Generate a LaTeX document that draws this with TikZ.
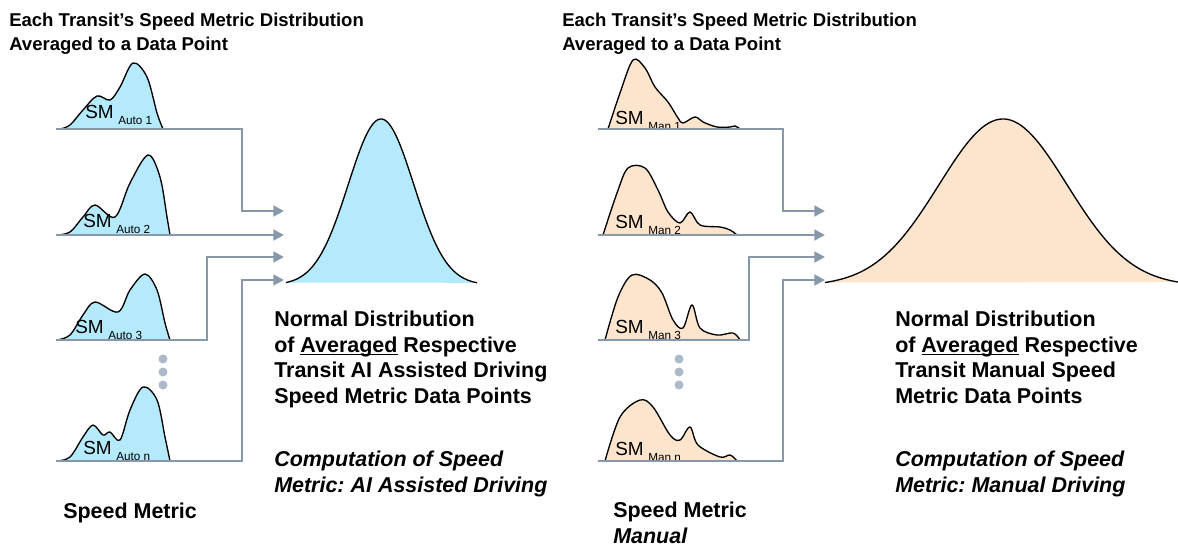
\documentclass[tikz,border=0pt]{standalone}
\usepackage{fontspec}
\setmainfont{Liberation Sans}
\usetikzlibrary{arrows.meta}
\frenchspacing

\definecolor{autoblue}{RGB}{180,234,251}
\definecolor{manpeach}{RGB}{252,228,205}
\definecolor{linkgray}{RGB}{134,152,170}
\definecolor{dotgray}{RGB}{170,186,200}

\tikzset{
	link/.style={draw=linkgray, line width=2.2pt, -{Triangle[length=8pt,width=8pt]}},
	bumpline/.style={draw=black, line width=1pt},
	smlabel/.style={anchor=base west, inner sep=0pt, font=\fontsize{14.2}{16}\selectfont},
	headtext/.style={anchor=base west, inner sep=0pt, align=left, font=\bfseries\fontsize{13.9}{18}\selectfont},
	bodytext/.style={anchor=base west, inner sep=0pt, align=left, font=\bfseries\fontsize{16.1}{19.1}\selectfont},
	slanttext/.style={anchor=base west, inner sep=0pt, align=left, font=\bfseries\itshape\fontsize{16.1}{19.1}\selectfont},
}

% a small speed metric curve: fill colour, points
\newcommand{\smcurve}[2]{%
	\fill[#1] plot[smooth, tension=0.55] coordinates {#2} -- cycle;
	\draw[bumpline] plot[smooth, tension=0.55] coordinates {#2};
}
\newcommand{\smtext}[1]{SM\hspace{3.5pt}\raisebox{-4.5pt}{\fontsize{8.8}{10}\selectfont #1}}

\begin{document}
\begin{tikzpicture}[x=0.75pt, y=-0.75pt]
	\useasboundingbox (0,0) rectangle (1178,547);
	% Draw the headers (anchored at the last line)
	\node[headtext] (headauto) at (9,50) {Each Transit’s Speed Metric Distribution\\Averaged to a Data Point};
	\node[headtext] (headman) at (562,50) {Each Transit’s Speed Metric Distribution\\Averaged to a Data Point};
	% Draw the AI assisted curves
	\smcurve{autoblue}{(60,129) (70,125) (83,110) (97,96) (110,100) (120,87) (133,63) (147,77) (157,113) (163,129)}
	\smcurve{autoblue}{(57,235) (70,232) (83,217) (95,205) (115,217) (130,183) (148,155) (160,177) (167,217) (170,235)}
	\smcurve{autoblue}{(57,340) (70,335) (83,315) (95,302) (118,312) (130,290) (145,274) (157,290) (165,323) (170,340)}
	\smcurve{autoblue}{(57,461) (70,457) (83,437) (93,425) (103,435) (110,432) (120,440) (130,410) (143,387) (157,400) (165,437) (170,461)}
	% Draw the manual curves
	\smcurve{manpeach}{(608,129) (620,93) (633,60) (645,68) (655,87) (668,102) (678,118) (683,123) (695,117) (703,122) (717,127) (730,127) (735,126) (740,129)}
	\smcurve{manpeach}{(603,235) (617,193) (628,168) (645,168) (658,190) (668,212) (680,223) (690,212) (700,225) (720,227) (730,230) (737,235)}
	\smcurve{manpeach}{(605,340) (618,297) (632,275) (650,280) (662,293) (673,320) (683,328) (692,305) (700,328) (717,335) (733,333) (740,340)}
	\smcurve{manpeach}{(605,461) (620,417) (640,400) (653,407) (670,435) (680,440) (690,427) (698,445) (720,457) (730,455) (737,461)}
	% Label the small curves
	\node[smlabel] (smauto1) at (85,118) {\smtext{Auto 1}};
	\node[smlabel] (smauto2) at (83,227) {\smtext{Auto 2}};
	\node[smlabel] (smauto3) at (75,333) {\smtext{Auto 3}};
	\node[smlabel] (smauton) at (83,454) {\smtext{Auto n}};
	\node[smlabel] (smman1) at (615,124) {\smtext{Man 1}};
	\node[smlabel] (smman2) at (615,228) {\smtext{Man 2}};
	\node[smlabel] (smman3) at (615,333) {\smtext{Man 3}};
	\node[smlabel] (smmann) at (615,455) {\smtext{Man n}};
	% Draw the dots
	\foreach \y in {359,372,385} {
		\fill[dotgray] (163,\y) circle (4.5);
		\fill[dotgray] (679,\y) circle (4.5);
	}
	% Draw the normal distributions
	\fill[autoblue] plot[domain=286:477, samples=120] (\x,{285-166*exp(-((\x-381)/32.7)*((\x-381)/32.7)/2)}) -- cycle;
	\draw[bumpline] plot[domain=286:477, samples=120] (\x,{285-166*exp(-((\x-381)/32.7)*((\x-381)/32.7)/2)});
	\fill[manpeach] plot[domain=825:1178, samples=150] (\x,{286-167*exp(-((\x-1003)/64)*((\x-1003)/64)/2)}) -- cycle;
	\draw[bumpline] plot[domain=825:1178, samples=150] (\x,{286-167*exp(-((\x-1003)/64)*((\x-1003)/64)/2)});
	% Draw the connectors
	\foreach \n/\y/\bx/\iy in {1/129/242/211, 2/235/242/235, 3/340/207/257, n/461/242/280} {
		\coordinate (autobase\n) at (56,\y);
		\coordinate (autoin\n) at (284,\iy);
		\draw[link] (autobase\n) -| (\bx,\iy) -- (autoin\n);
	}
	\foreach \n/\y/\bx/\iy in {1/129/783/211, 2/235/783/235, 3/340/749/257, n/461/783/280} {
		\coordinate (manbase\n) at (598,\y);
		\coordinate (manin\n) at (825,\iy);
		\draw[link] (manbase\n) -| (\bx,\iy) -- (manin\n);
	}
	% Add the texts (anchored at the last line)
	\node[bodytext] (normauto) at (274,403) {Normal Distribution\\of \underline{\smash{Averaged}} Respective\\Transit AI Assisted Driving\\Speed Metric Data Points};
	\node[slanttext] (compauto) at (274,492) {Computation of Speed\\Metric: AI Assisted Driving};
	\node[bodytext] (normman) at (895,403) {Normal Distribution\\of \underline{\smash{Averaged}} Respective\\Transit Manual Speed\\Metric Data Points};
	\node[slanttext] (compman) at (895,492) {Computation of Speed\\Metric: Manual Driving};
	\node[bodytext] (speedauto) at (63,518) {Speed Metric};
	\node[bodytext] (speedman) at (613,543) {Speed Metric\\\textit{Manual}};
\end{tikzpicture}
\end{document}
